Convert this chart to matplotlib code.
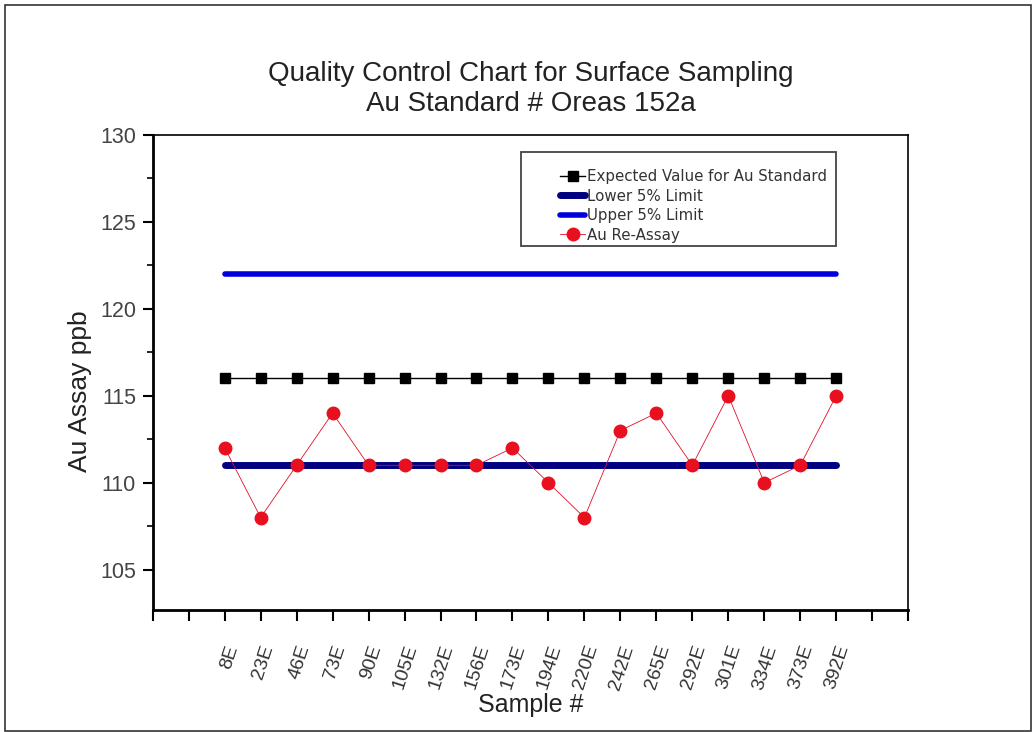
import numpy as np
import matplotlib
matplotlib.use("Agg")
import matplotlib.pyplot as plt
from matplotlib.ticker import MultipleLocator
from matplotlib.patches import Rectangle

plt.rcParams['font.family'] = ['Liberation Sans', 'DejaVu Sans']

samples = ['8E', '23E', '46E', '73E', '90E', '105E', '132E', '156E', '173E',
           '194E', '220E', '242E', '265E', '292E', '301E', '334E', '373E', '392E']
expected = [116] * len(samples)
lower = [111] * len(samples)
upper = [122] * len(samples)
reassay = [112, 108, 111, 114, 111, 111, 111, 111, 112,
           110, 108, 113, 114, 111, 115, 110, 111, 115]

x = np.arange(len(samples))

fig = plt.figure(figsize=(10.32, 7.32), dpi=100)
# outer frame round the picture
fig.patches.append(Rectangle((0.005, 0.002), 0.994, 0.991, transform=fig.transFigure,
                             fill=False, edgecolor='#333333', linewidth=1.2))
ax = fig.add_axes([0.148, 0.167, 0.732, 0.649])

ax.plot(x, expected, color='black', lw=1, marker='s', ms=7, label='Expected Value for Au Standard', zorder=3)
ax.plot(x, lower, color='#000080', lw=5, solid_capstyle='round', label='Lower 5% Limit', zorder=2)
ax.plot(x, upper, color='#0000dd', lw=4, solid_capstyle='round', label='Upper 5% Limit', zorder=2)
ax.plot(x, reassay, color='#e0102a', lw=0.6, marker='o', ms=9, mfc='#e8101e', mec='#e8101e',
        label='Au Re-Assay', zorder=4)

ax.set_xlim(-2, 19)
ax.set_ylim(102.7, 130)
ax.set_xticks(np.arange(-2, 20))
ax.set_xticklabels([''] * 2 + samples + [''] * 2, rotation=72, ha='right',
                   rotation_mode='anchor', fontsize=14, color='#333333')
ax.yaxis.set_major_locator(MultipleLocator(5))
ax.yaxis.set_minor_locator(MultipleLocator(2.5))
ax.tick_params(axis='y', which='major', direction='out', length=7, width=1.5, labelsize=15.5,
               labelcolor='#444444', pad=5)
ax.tick_params(axis='y', which='minor', direction='out', length=4, width=1.2)
ax.tick_params(axis='x', direction='out', length=8, width=1.5, pad=16)

for s in ['left', 'bottom']:
    ax.spines[s].set_linewidth(2)
for s in ['top', 'right']:
    ax.spines[s].set_linewidth(1.2)

ax.set_ylabel('Au Assay ppb', fontsize=19, color='#222222')
ax.yaxis.set_label_coords(-0.081, 0.46)
ax.set_xlabel('Sample #', fontsize=18, color='#222222')
ax.xaxis.set_label_coords(0.5, -0.176)
ax.set_title('Quality Control Chart for Surface Sampling\nAu Standard # Oreas 152a',
             fontsize=20, color='#222222', pad=17, linespacing=1.2)

# legend text spaced out like the original, box drawn separately
leg = ax.legend(loc='upper right', bbox_to_anchor=(0.898, 0.937),
                prop={'family': 'DejaVu Sans', 'size': 10.8},
                handlelength=1.65, handletextpad=0.1, borderpad=0.3, labelspacing=0.3,
                frameon=False, borderaxespad=0)
for t in leg.get_texts():
    t.set_color('#333333')
ax.add_patch(Rectangle((0.487, 0.766), 0.418, 0.198, transform=ax.transAxes, fill=False,
                       edgecolor='#444444', linewidth=1.3, zorder=5))

fig.savefig('out.png', dpi=100)
